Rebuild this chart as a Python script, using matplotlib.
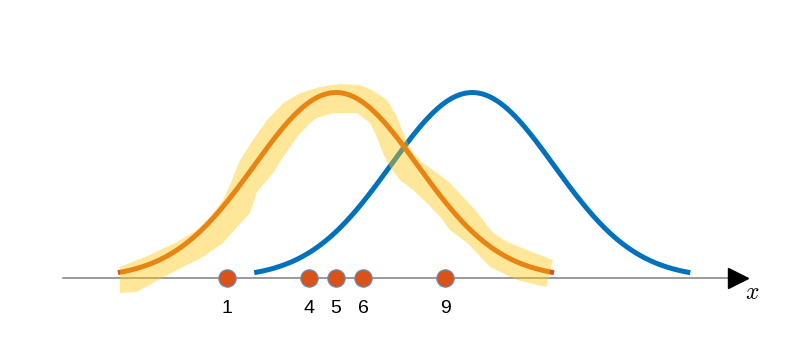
import numpy as np
import matplotlib
matplotlib.use("Agg")
from matplotlib import pyplot as plt

plt.rcParams['mathtext.fontset'] = 'cm'

# sample points on the x axis
samples = [1, 4, 5, 6, 9]

# two gaussian curves (mean, sigma, x range)
mu_orange, sd_orange, xr_orange = 5, 3, (-3, 13)
mu_blue, sd_blue, xr_blue = 10, 3, (2, 18)

# hand drawn highlighter stroke round the orange curve (data units)
hl_x = [-2.93, -2.56, -1.83, -0.83, -0.10, 0.38, 0.85, 1.11, 1.48, 1.95,
        2.47, 3.06, 3.68, 4.41, 5.15, 5.88, 6.32, 6.87, 7.24, 7.46, 7.83,
        8.19, 8.71, 9.18, 9.66, 10.17, 10.76, 11.28, 12.01, 12.96, 12.71,
        11.64, 10.65, 10.17, 9.81, 9.18, 8.82, 8.34, 7.83, 7.35, 6.98, 6.72,
        6.50, 6.25, 5.77, 4.89, 4.30, 4.05, 3.57, 3.06, 2.69, 2.10, 1.84,
        1.37, 0.85, 0.12, -0.83, -1.72, -2.30, -2.93]
hl_y = [0.059, 0.081, 0.124, 0.194, 0.259, 0.329, 0.420, 0.501, 0.636, 0.744,
        0.852, 0.943, 0.997, 1.030, 1.046, 1.040, 1.013, 0.960, 0.868, 0.782,
        0.674, 0.620, 0.566, 0.512, 0.437, 0.356, 0.243, 0.194, 0.151, 0.097,
        -0.049, -0.011, 0.059, 0.135, 0.189, 0.259, 0.329, 0.404, 0.474,
        0.528, 0.598, 0.674, 0.760, 0.836, 0.889, 0.889, 0.863, 0.836, 0.760,
        0.652, 0.566, 0.464, 0.350, 0.275, 0.189, 0.113, 0.043, -0.027,
        -0.075, -0.081]

def gauss(x, mu, sd):
    return np.exp(-(x - mu) ** 2 / (2 * sd ** 2))

fig = plt.figure(figsize=(7.99, 3.59), dpi=100)
ax = fig.add_axes([0, 0, 1, 1])
ax.set_xlim(-7.33, 21.99)
ax.set_ylim(-0.437, 1.499)
ax.axis('off')

# x axis with arrow head
ax.plot([-5, 19.5], [0, 0], color='#7f7f7f', lw=1.1, zorder=1)
ax.plot([19.76], [0], marker='>', ms=14, color='black', zorder=2)
ax.text(20.27, -0.075, '$x$', fontsize=17, ha='center', va='center')

xb = np.linspace(*xr_blue, 300)
ax.plot(xb, gauss(xb, mu_blue, sd_blue), color='#0072BD', lw=3.6,
        solid_capstyle='butt', zorder=3)
xo = np.linspace(*xr_orange, 300)
ax.plot(xo, gauss(xo, mu_orange, sd_orange), color='#D95319', lw=3.6,
        solid_capstyle='butt', zorder=4)

ax.fill(hl_x, hl_y, color='#FFC80C', alpha=0.42, lw=0, zorder=5)

ax.plot(samples, np.zeros(len(samples)), 'o', ms=12.5, mfc='#D95319',
        mec='#5b8fc7', mew=0.8, zorder=6)
for s in samples:
    ax.text(s, -0.162, str(s), fontsize=14, family='Liberation Sans',
            ha='center', va='center')

fig.savefig('out.png', dpi=100)
